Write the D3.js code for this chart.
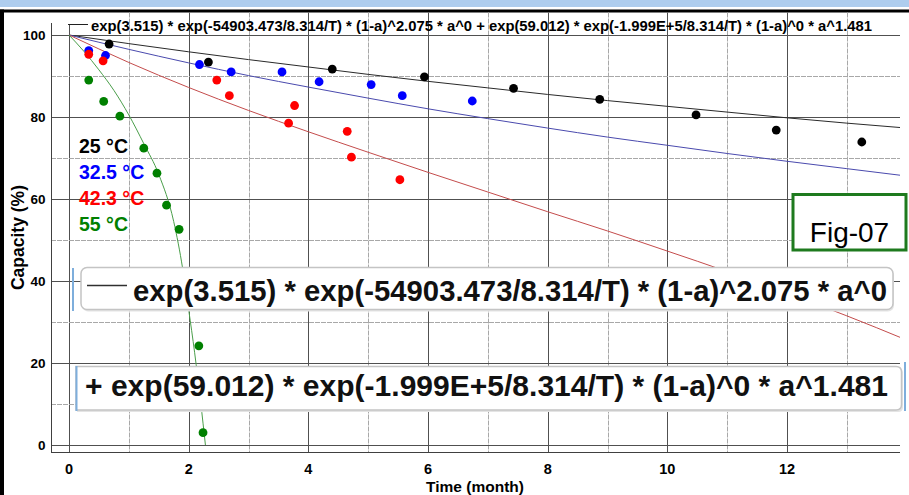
<!DOCTYPE html>
<html lang="en">
<head>
<meta charset="utf-8">
<title>Capacity fade - Fig-07</title>
<script src="https://cdn.jsdelivr.net/npm/d3@7/dist/d3.min.js"></script>
<style>
    body { margin: 0; background: #fff; }
    svg { display: block; font-family: "Liberation Sans", Arial, sans-serif; }
</style>
</head>
<body>
<div id="chart"></div>
<script>
// measured points, time in months / capacity in %
const time25 = [0.67, 2.33, 4.40, 5.94, 7.43, 8.87, 10.48, 11.82, 13.25];
const cap25  = [97.8, 93.4, 91.7, 89.8, 87.0, 84.3, 80.5, 76.8, 73.9];
const time32 = [0.33, 0.61, 2.18, 2.71, 3.56, 4.18, 5.05, 5.57, 6.74];
const cap32  = [96.2, 95.0, 92.8, 91.0, 91.0, 88.6, 87.9, 85.2, 83.9];
const time42 = [0.33, 0.57, 2.47, 2.68, 3.77, 3.67, 4.65, 4.72, 5.53];
const cap42  = [95.3, 93.7, 89.0, 85.2, 82.8, 78.5, 76.5, 70.2, 64.7];
const time55 = [0.33, 0.58, 0.85, 1.25, 1.47, 1.63, 1.84, 2.17, 2.24];
const cap55  = [89.0, 83.8, 80.2, 72.4, 66.3, 58.5, 52.6, 24.2, 3.0];

// fitted curves
const fitTime = [0, 1, 2, 3, 4, 5, 6, 7, 8, 9, 10, 11, 12, 13, 14];
const fit25 = [100, 97.9, 95.9, 94.0, 92.2, 90.4, 88.7, 87.1, 85.5, 84.0, 82.6, 81.2, 79.8, 78.5, 77.3];
const fit32 = [100, 96.5, 93.2, 90.1, 87.3, 84.6, 82.0, 79.6, 77.3, 75.1, 73.1, 71.1, 69.2, 67.4, 65.6];
const fit42 = [100, 93.3, 87.2, 81.6, 76.4, 71.4, 66.5, 61.7, 56.9, 52.2, 47.3, 42.3, 37.0, 31.5, 25.6];
const fitTime55 = [0, 0.25, 0.5, 0.75, 1.0, 1.25, 1.5, 1.75, 1.9, 2.0, 2.1, 2.2, 2.28];
const fit55 = [100, 96, 91.5, 86.5, 80.5, 73.5, 66, 54.5, 43, 33, 22.5, 10.5, 0];

const legendLabels = ["25 °C", "32.5 °C", "42.3 °C", "55 °C"];
const xTicks = [0, 2, 4, 6, 8, 10, 12];
const yTicks = [0, 20, 40, 60, 80, 100];

const eq1 = "exp(3.515) * exp(-54903.473/8.314/T) * (1-a)^2.075 * a^0";
const eq2 = "+ exp(59.012) * exp(-1.999E+5/8.314/T) * (1-a)^0 * a^1.481";
const titleText = eq1 + " + " + eq2.slice(2);

// dimensions
const W = 909, H = 495;
const plotLeft = 51, plotRight = 900, plotTop = 12, plotBottom = 452;

const svg = d3.select("#chart").append("svg")
    .attr("width", W)
    .attr("height", H);

const x = d3.scaleLinear().domain([0, 12]).range([69, 787]);
const y = d3.scaleLinear().domain([0, 100]).range([445, 35]);

// window frame
svg.append("rect").attr("x", 0).attr("y", 0).attr("width", W).attr("height", 7).attr("fill", "#aecdee");
svg.append("rect").attr("x", 0).attr("y", 9.5).attr("width", W).attr("height", 3).attr("fill", "#000");
svg.append("rect").attr("x", 0).attr("y", 9.5).attr("width", 4).attr("height", H).attr("fill", "#000");

// grid
const grid = svg.append("g");
grid.selectAll(".vgrid")
    .data(d3.range(0, 14))
    .enter().append("line")
    .attr("x1", d => Math.round(x(d)) + 0.5).attr("x2", d => Math.round(x(d)) + 0.5)
    .attr("y1", d => d === 0 ? 24 : plotTop + 0.5)
    .attr("y2", plotBottom)
    .attr("stroke", d => d % 2 ? "#a8a8a8" : "#505050")
    .attr("stroke-dasharray", d => d % 2 ? "5,1" : null)
    .attr("stroke-width", 1);

grid.selectAll(".hgrid")
    .data(d3.range(0, 101, 10))
    .enter().append("line")
    .attr("x1", plotLeft).attr("x2", plotRight)
    .attr("y1", d => Math.round(y(d)) + 0.5).attr("y2", d => Math.round(y(d)) + 0.5)
    .attr("stroke", d => d % 20 ? "#a8a8a8" : "#505050")
    .attr("stroke-dasharray", d => d % 20 ? "5,1" : null)
    .attr("stroke-width", 1);

// axis lines
svg.append("line").attr("x1", plotLeft + 0.5).attr("x2", plotLeft + 0.5).attr("y1", 23).attr("y2", plotBottom + 0.5)
    .attr("stroke", "#404040");
svg.append("line").attr("x1", plotLeft).attr("x2", plotRight).attr("y1", plotBottom + 0.5).attr("y2", plotBottom + 0.5)
    .attr("stroke", "#404040");

// tick labels
svg.selectAll(".ylab")
    .data(yTicks)
    .enter().append("text")
    .attr("x", 45.5)
    .attr("y", d => y(d))
    .attr("dy", "0.36em")
    .attr("text-anchor", "end")
    .attr("font-size", "13.5px")
    .attr("font-weight", "bold")
    .text(d => d);

svg.selectAll(".xlab")
    .data(xTicks)
    .enter().append("text")
    .attr("x", d => x(d))
    .attr("y", 474)
    .attr("text-anchor", "middle")
    .attr("font-size", "14.5px")
    .attr("font-weight", "bold")
    .text(d => d);

// axis titles
svg.append("text")
    .attr("x", 475).attr("y", 491.8)
    .attr("text-anchor", "middle")
    .attr("font-size", "15.5px")
    .attr("font-weight", "bold")
    .text("Time (month)");

svg.append("text")
    .attr("transform", "translate(24,237.5) rotate(-90)")
    .attr("text-anchor", "middle")
    .attr("font-size", "17.5px")
    .attr("font-weight", "bold")
    .text("Capacity (%)");

// curves
svg.append("clipPath").attr("id", "plotclip")
    .append("rect").attr("x", plotLeft).attr("y", plotTop)
    .attr("width", plotRight - plotLeft).attr("height", plotBottom - plotTop);

const line = d3.line()
    .x(d => x(d[0]))
    .y(d => y(d[1]))
    .curve(d3.curveMonotoneX);

const fits = [
    { pts: d3.zip(fitTime, fit25), color: "#2a2a2a" },
    { pts: d3.zip(fitTime, fit32), color: "#4a4aae" },
    { pts: d3.zip(fitTime, fit42), color: "#c44c4c" },
    { pts: d3.zip(fitTime55, fit55), color: "#4a9e4a" }
];
svg.append("g").attr("clip-path", "url(#plotclip)")
    .selectAll("path")
    .data(fits)
    .enter().append("path")
    .attr("d", d => line(d.pts))
    .attr("fill", "none")
    .attr("stroke", d => d.color)
    .attr("stroke-width", 1);

// measured dots
const series = [
    { pts: d3.zip(time25, cap25), color: "#000000" },
    { pts: d3.zip(time32, cap32), color: "#0000ff" },
    { pts: d3.zip(time42, cap42), color: "#ff0000" },
    { pts: d3.zip(time55, cap55), color: "#008000" }
];
series.forEach(function (s) {
    svg.append("g").selectAll("circle")
        .data(s.pts)
        .enter().append("circle")
        .attr("cx", d => x(d[0]))
        .attr("cy", d => y(d[1]))
        .attr("r", 4.4)
        .attr("fill", s.color);
});

// title with its legend dash
svg.append("line").attr("x1", 68).attr("x2", 88).attr("y1", 24.5).attr("y2", 24.5)
    .attr("stroke", "#202020");
svg.append("text")
    .attr("x", 91).attr("y", 31)
    .attr("font-size", "14.8px")
    .attr("font-weight", "bold")
    .attr("textLength", 781)
    .attr("lengthAdjust", "spacingAndGlyphs")
    .text(titleText);

// temperature legend
const legendColors = ["#000000", "#0000ff", "#ff0000", "#008000"];
svg.selectAll(".leg")
    .data(legendLabels)
    .enter().append("text")
    .attr("x", 79)
    .attr("y", (d, i) => 153 + i * 25.9)
    .attr("font-size", "19.5px")
    .attr("font-weight", "bold")
    .attr("fill", (d, i) => legendColors[i])
    .text(d => d);

// equation box 1
svg.append("rect").attr("x", 82).attr("y", 269.5).attr("width", 812).attr("height", 42).attr("rx", 6)
    .attr("fill", "#e4e4e4");
svg.append("rect").attr("x", 81).attr("y", 267.5).attr("width", 812).attr("height", 42).attr("rx", 6)
    .attr("fill", "#fff").attr("stroke", "#c4c4c4").attr("stroke-width", 1.5);
svg.append("line").attr("x1", 73).attr("x2", 73).attr("y1", 268).attr("y2", 311)
    .attr("stroke", "#7eaedc").attr("stroke-width", 2);
svg.append("line").attr("x1", 87).attr("x2", 127).attr("y1", 285.5).attr("y2", 285.5)
    .attr("stroke", "#303030").attr("stroke-width", 1.5);
svg.append("text")
    .attr("x", 133).attr("y", 301)
    .attr("font-size", "29px")
    .attr("font-weight", "bold")
    .attr("fill", "#111")
    .attr("textLength", 754)
    .attr("lengthAdjust", "spacingAndGlyphs")
    .text(eq1);

// equation box 2
svg.append("path")
    .attr("d", "M77,368 H898 Q903,368 903,373 V407 Q903,412 898,412 H77 Z")
    .attr("fill", "#e4e4e4");
svg.append("path")
    .attr("d", "M76,366.5 H896 Q901.5,366.5 901.5,372 V404.5 Q901.5,410 896,410 H76 Z")
    .attr("fill", "#fff").attr("stroke", "#c4c4c4").attr("stroke-width", 1.5);
svg.append("line").attr("x1", 76.5).attr("x2", 76.5).attr("y1", 366).attr("y2", 411)
    .attr("stroke", "#7eaedc").attr("stroke-width", 2);
svg.append("line").attr("x1", 905).attr("x2", 905).attr("y1", 362).attr("y2", 411)
    .attr("stroke", "#7eaedc").attr("stroke-width", 2);
svg.append("text")
    .attr("x", 85).attr("y", 396)
    .attr("font-size", "29px")
    .attr("font-weight", "bold")
    .attr("fill", "#111")
    .attr("textLength", 803)
    .attr("lengthAdjust", "spacingAndGlyphs")
    .text(eq2);

// figure tag
svg.append("rect").attr("x", 793).attr("y", 194.5).attr("width", 113).attr("height", 55.5)
    .attr("fill", "#fff").attr("stroke", "#1e7a1e").attr("stroke-width", 3);
svg.append("text")
    .attr("x", 849.5).attr("y", 242)
    .attr("text-anchor", "middle")
    .attr("font-size", "28px")
    .text("Fig-07");
</script>
</body>
</html>
